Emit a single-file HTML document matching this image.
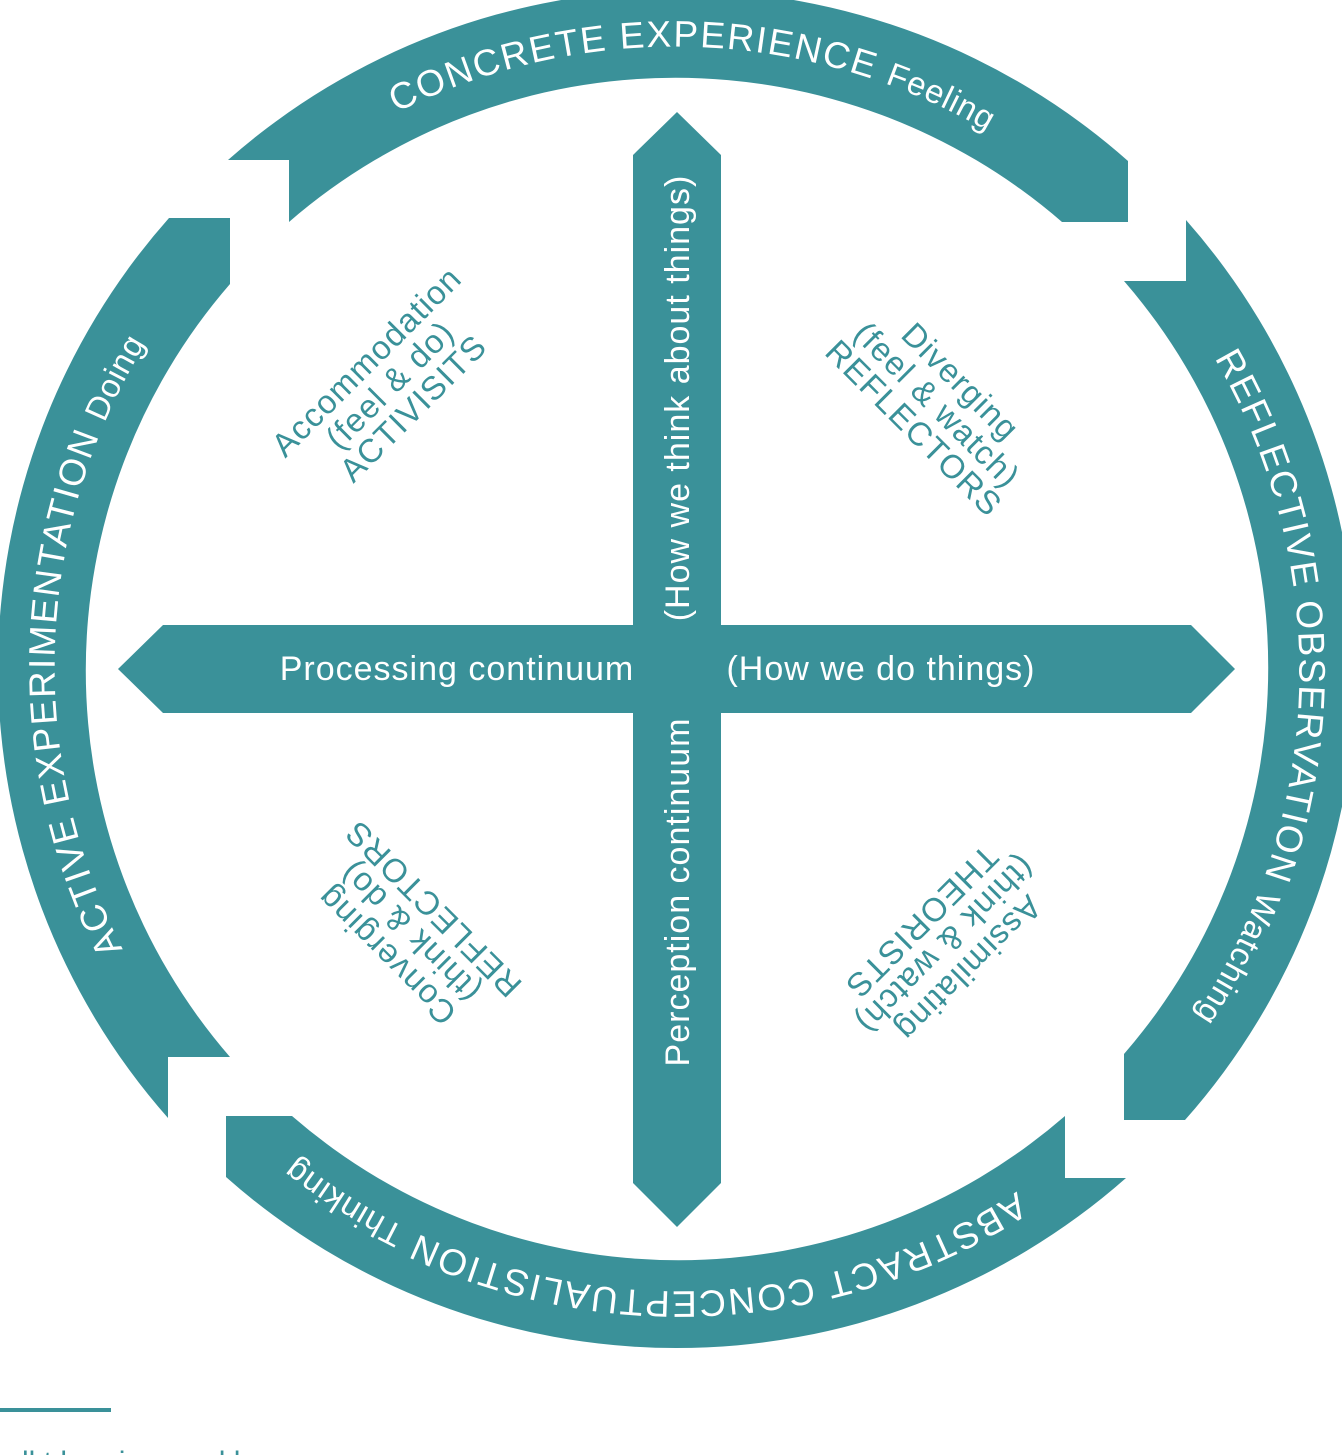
<!DOCTYPE html>
<html><head><meta charset="utf-8"><style>
html,body{margin:0;padding:0;background:#fff;width:1342px;height:1455px;overflow:hidden}
svg{display:block}
text{font-family:"Liberation Sans",sans-serif}
</style></head><body>
<svg width="1342" height="1455" viewBox="0 0 1342 1455" xmlns="http://www.w3.org/2000/svg">
<defs>
<path id="rib" d="M -449 -509 A 679 679 0 0 1 451 -508 L 451 -447 L 385 -447 A 590 590 0 0 0 -388 -447 L -388 -509 Z"/>
<path id="circ" d="M 1115.4 230.6 A 620 620 0 1 1 238.6 1107.4 A 620 620 0 1 1 1115.4 230.6"/>
</defs>
<g fill="#3a9199" transform="translate(677,669)">
<use href="#rib"/>
<use href="#rib" transform="rotate(90)"/>
<use href="#rib" transform="rotate(180)"/>
<use href="#rib" transform="rotate(270)"/>
</g>
<g fill="#fff" font-size="37" letter-spacing="1.8">
<text text-anchor="middle"><textPath href="#circ" startOffset="3438">CONCRETE EXPERIENCE <tspan font-size="33" letter-spacing="0.8">Feeling</tspan></textPath></text>
<text text-anchor="middle"><textPath href="#circ" startOffset="509">REFLECTIVE OBSERVATION <tspan font-size="33" letter-spacing="0.8">Watching</tspan></textPath></text>
<text text-anchor="middle"><textPath href="#circ" startOffset="1493">ABSTRACT CONCEPTUALISTION <tspan font-size="33" letter-spacing="0.8">Thinking</tspan></textPath></text>
<text text-anchor="middle"><textPath href="#circ" startOffset="2468">ACTIVE EXPERIMENTATION <tspan font-size="33" letter-spacing="0.8">Doing</tspan></textPath></text>
</g>
<g fill="#3a9199">
<polygon points="677,112 721,155 721,1183 677,1227 633,1183 633,155"/>
<polygon points="118,669 163,625 1191,625 1235,669 1191,713 163,713"/>
</g>
<g fill="#fff" font-size="34" letter-spacing="1">
<text x="457" y="680" text-anchor="middle">Processing continuum</text>
<text x="881" y="680" text-anchor="middle">(How we do things)</text>
<text transform="translate(689,398) rotate(-90)" text-anchor="middle">(How we think about things)</text>
<text transform="translate(689,892) rotate(-90)" text-anchor="middle">Perception continuum</text>
</g>
<g fill="#3a9199" font-size="33" letter-spacing="1.2" text-anchor="middle">
<g transform="translate(390,385) rotate(-45)">
<text y="-22">Accommodation</text><text y="11">(feel &amp; do)</text><text y="44">ACTIVISITS</text>
</g>
<g transform="translate(937,405) rotate(45)">
<text y="-22">Diverging</text><text y="11">(feel &amp; watch)</text><text y="44">REFLECTORS</text>
</g>
<g transform="translate(410,932) rotate(225)">
<text y="-22">Converging</text><text y="11">(think &amp; do)</text><text y="44">REFLECTORS</text>
</g>
<g transform="translate(945,945) rotate(135)">
<text y="-22">Assimilating</text><text y="11">(think &amp; watch)</text><text y="44">THEORISTS</text>
</g>
</g>
<rect x="0" y="1408" width="111" height="4" fill="#3a9199"/>
<text x="22" y="1472" fill="#3a9199" font-size="30">ll t l   arning mod l</text>
</svg>
</body></html>
